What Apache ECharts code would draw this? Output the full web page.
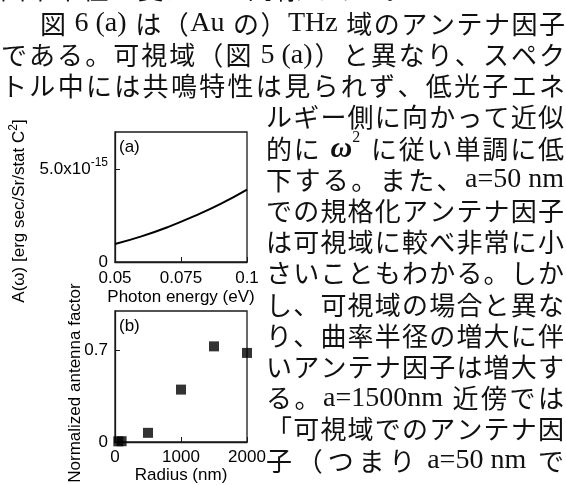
<!DOCTYPE html>
<html>
<head>
<meta charset="utf-8">
<script src="https://cdn.jsdelivr.net/npm/echarts@6/dist/echarts.min.js"></script>
<style>
  html, body { margin: 0; padding: 0; background: #fff; }
  #main { width: 566px; height: 485px; }
</style>
</head>
<body>
<div id="main"></div>
<script>
// Fig. 6(a): THz-range antenna factor of the Au tip
const photonEnergy = [0.05, 0.06, 0.07, 0.08, 0.09, 0.1];                        // eV
const antennaFactor = [0.97e-15, 1.38e-15, 1.88e-15, 2.47e-15, 3.13e-15, 3.9e-15]; // erg sec/Sr/stat C^2
const energyTicks = [0.05, 0.075, 0.1];
const factorTicks = [0, 5e-15];

// Fig. 6(b): normalized antenna factor vs. radius of curvature
const radius = [50, 100, 500, 1000, 1500, 2000];          // nm
const normFactor = [0.005, 0.006, 0.07, 0.40, 0.73, 0.68];
const radiusTicks = [0, 1000, 2000];
const normTicks = [0, 0.7];

// Body text around the figure
const bodyTop = '曲率半径を変えても同様である。';
const bodyFull = [
  '図 6 (a) は（Au の）THz 域のアンテナ因子',
  'である。可視域（図 5 (a)）と異なり、スペク',
  'トル中には共鳴特性は見られず、低光子エネ'
];
const bodyColumn = [
  'ルギー側に向かって近似',
  '的に ω² に従い単調に低',
  '下する。また、a=50 nm',
  'での規格化アンテナ因子',
  'は可視域に較べ非常に小',
  'さいこともわかる。しか',
  'し、可視域の場合と異な',
  'り、曲率半径の増大に伴',
  'いアンテナ因子は増大す',
  'る。a=1500nm 近傍では',
  '「可視域でのアンテナ因',
  '子（つまり a=50 nm で'
];

const SANS = '"Liberation Sans", Arial, sans-serif';
const INK = '#111';
const FS = 17;

// ---- justified Japanese text, token by token ----
const FONTS = {
  cjk: '26px "Noto Sans CJK JP"',
  latin: '28px "Liberation Serif"',
  omega: 'italic bold 30px "Liberation Serif"',
  sup: '16px "Liberation Serif"'
};
const measureCtx = document.createElement('canvas').getContext('2d');
function textWidth(t, font) { measureCtx.font = font; return measureCtx.measureText(t).width; }

function tokenize(s) {
  const out = [];
  let run = '';
  for (const ch of s) {
    const cp = ch.codePointAt(0);
    if (cp >= 0x3000 || ch === 'ω' || ch === '²') {
      if (run) { out.push({ t: run, kind: 'latin' }); run = ''; }
      out.push({ t: ch === '²' ? '2' : ch, kind: ch === 'ω' ? 'omega' : ch === '²' ? 'sup' : 'cjk' });
    } else {
      run += ch;
    }
  }
  if (run) out.push({ t: run, kind: 'latin' });
  return out;
}

function layoutLine(s, x0, x1, yc, justify) {
  const toks = tokenize(s);
  toks.forEach(k => { k.w = textWidth(k.t, FONTS[k.kind]); });
  const total = toks.reduce((a, k) => a + k.w, 0);
  const gaps = toks.filter((k, i) => i > 0 && k.kind !== 'sup').length;
  const gap = justify && gaps > 0 ? (x1 - x0 - total) / gaps : 1.5;
  const els = [];
  let x = x0;
  toks.forEach((k, i) => {
    if (i > 0 && k.kind !== 'sup') x += gap;
    els.push({
      type: 'text', silent: true,
      x: x, y: yc + (k.kind === 'sup' ? -11 : 0),
      style: {
        text: k.t, font: FONTS[k.kind], fill: INK,
        textAlign: 'left', textVerticalAlign: 'middle', align: 'left', verticalAlign: 'middle'
      }
    });
    x += k.w;
  });
  return els;
}

const LINE_Y0 = 24, LINE_STEP = 31.2;
const textEls = [];
textEls.push(...layoutLine(bodyTop, 0, 566, LINE_Y0 - LINE_STEP - 4, false));
bodyFull.forEach((s, i) => {
  const x0 = i === 0 ? 40 : 1;
  textEls.push(...layoutLine(s, x0, 565, LINE_Y0 + i * LINE_STEP, true));
});
bodyColumn.forEach((s, i) => {
  textEls.push(...layoutLine(s, 266, 564, LINE_Y0 + (i + 3) * LINE_STEP, true));
});

// ---- charts ----
function sciLabel(v) {
  if (v === 0) return '0';
  const e = Math.floor(Math.log10(v));
  const m = (v / Math.pow(10, e)).toFixed(1);
  return '{m|' + m + 'x10}{e|' + e + '}';
}
const plainLabel = v => String(v);

const axisLineStyle = { show: true, lineStyle: { color: '#1a1a1a', width: 1.3 } };
const labelBase = { fontSize: FS, fontFamily: SANS, color: '#000' };

const chart = echarts.init(document.getElementById('main'), null, { renderer: 'canvas' });
chart.setOption({
  animation: false,
  backgroundColor: '#fff',
  grid: [
    { left: 115, top: 132, width: 132, height: 130, show: true, borderColor: '#1a1a1a', borderWidth: 1.3 },
    { left: 115, top: 311, width: 132, height: 131, show: true, borderColor: '#1a1a1a', borderWidth: 1.3 }
  ],
  xAxis: [
    {
      gridIndex: 0, type: 'value', min: 0.05, max: 0.1,
      axisLine: axisLineStyle,
      axisTick: { inside: true, length: 5, customValues: energyTicks },
      axisLabel: Object.assign({ margin: 8, customValues: energyTicks, formatter: plainLabel, showMinLabel: true, showMaxLabel: true }, labelBase),
      splitLine: { show: false },
      name: 'Photon energy (eV)', nameLocation: 'middle', nameGap: 27,
      nameTextStyle: labelBase
    },
    {
      gridIndex: 1, type: 'value', min: 0, max: 2000,
      axisLine: axisLineStyle,
      axisTick: { inside: true, length: 5, customValues: radiusTicks },
      axisLabel: Object.assign({ margin: 7, customValues: radiusTicks, formatter: plainLabel, showMinLabel: true, showMaxLabel: true }, labelBase),
      splitLine: { show: false },
      name: 'Radius (nm)', nameLocation: 'middle', nameGap: 25,
      nameTextStyle: labelBase
    }
  ],
  yAxis: [
    {
      gridIndex: 0, type: 'value', min: 0, max: 7e-15,
      axisLine: axisLineStyle,
      axisTick: { inside: true, length: 5, customValues: factorTicks },
      axisLabel: Object.assign({
        margin: 7, customValues: factorTicks, formatter: sciLabel,
        rich: {
          m: { fontSize: FS, fontFamily: SANS, color: '#000', lineHeight: 24 },
          e: { fontSize: 12, fontFamily: SANS, color: '#000', lineHeight: 12, verticalAlign: 'top' }
        }
      }, labelBase),
      splitLine: { show: false }
    },
    {
      gridIndex: 1, type: 'value', min: 0, max: 1,
      axisLine: axisLineStyle,
      axisTick: { inside: true, length: 5, customValues: normTicks },
      axisLabel: Object.assign({ margin: 7, customValues: normTicks, formatter: plainLabel }, labelBase),
      splitLine: { show: false }
    }
  ],
  series: [
    {
      type: 'line', xAxisIndex: 0, yAxisIndex: 0, smooth: true, symbol: 'none',
      lineStyle: { color: '#000', width: 2 },
      data: photonEnergy.map((e, i) => [e, antennaFactor[i]])
    },
    {
      type: 'scatter', xAxisIndex: 1, yAxisIndex: 1, symbol: 'rect', symbolSize: 10, clip: false,
      itemStyle: { color: '#000' },
      data: radius.map((r, i) => [r, normFactor[i]])
    }
  ],
  graphic: [
    {
      type: 'text', silent: true, x: 19, y: 211, rotation: Math.PI / 2,
      style: {
        text: '{n|A(ω) [erg sec/Sr/stat C}{s|2}{n|]}',
        textAlign: 'center', textVerticalAlign: 'middle', align: 'center', verticalAlign: 'middle',
        rich: {
          n: { fontSize: FS, fontFamily: SANS, fill: '#000', lineHeight: 22 },
          s: { fontSize: 12, fontFamily: SANS, fill: '#000', lineHeight: 12, verticalAlign: 'top' }
        }
      }
    },
    {
      type: 'text', silent: true, x: 75, y: 383, rotation: Math.PI / 2,
      style: {
        text: 'Normalized antenna factor', font: FS + 'px ' + SANS, fill: '#000',
        textAlign: 'center', textVerticalAlign: 'middle', align: 'center', verticalAlign: 'middle'
      }
    },
    {
      type: 'text', silent: true, x: 119, y: 147,
      style: { text: '(a)', font: FS + 'px ' + SANS, fill: '#000', textVerticalAlign: 'middle', verticalAlign: 'middle' }
    },
    {
      type: 'text', silent: true, x: 119, y: 326,
      style: { text: '(b)', font: FS + 'px ' + SANS, fill: '#000', textVerticalAlign: 'middle', verticalAlign: 'middle' }
    },
    ...textEls
  ]
});
</script>
</body>
</html>
